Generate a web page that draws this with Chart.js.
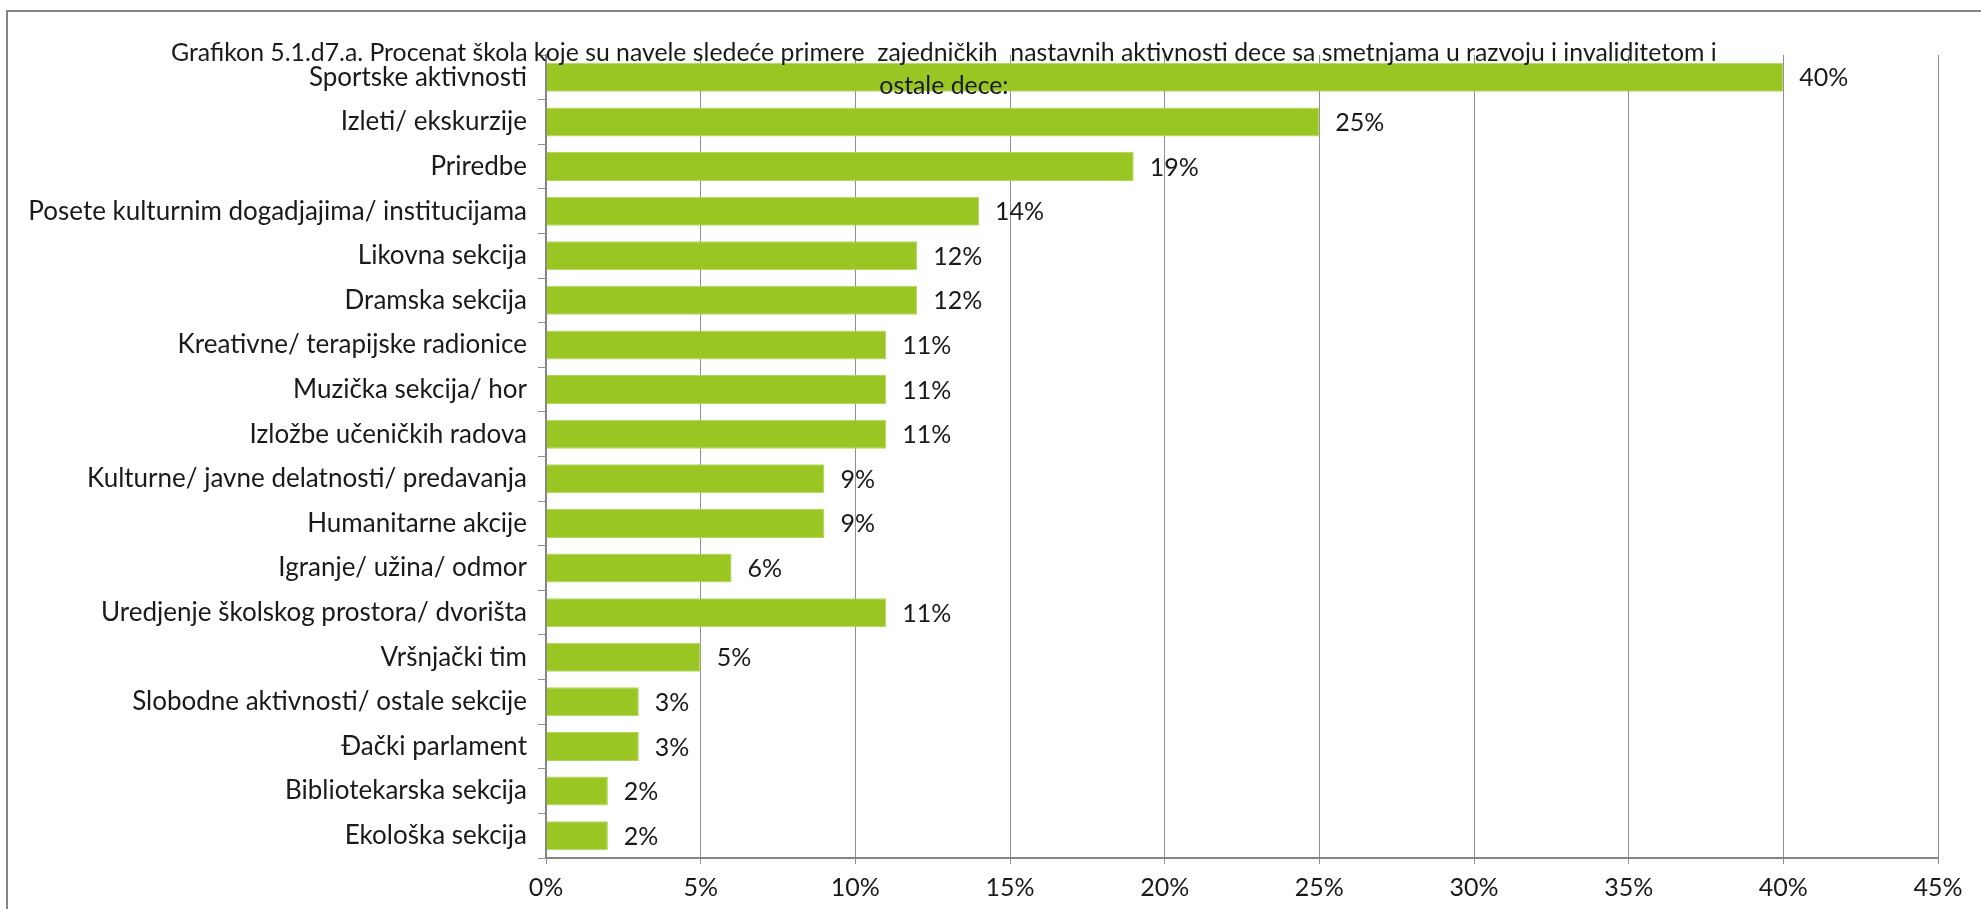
<!DOCTYPE html>
<html lang="sr">
<head>
<meta charset="utf-8">
<title>Grafikon 5.1.d7.a</title>
<script src="https://cdn.jsdelivr.net/npm/chart.js@4.4.1/dist/chart.umd.min.js"></script>
<style>
  html, body { margin: 0; padding: 0; background: #ffffff; overflow: hidden; }
  #wrap { position: relative; width: 1981px; height: 909px; }
  #frame {
    position: absolute; left: 6px; top: 10px; width: 2100px; height: 1100px;
    border-left: 2px solid #858585; border-top: 2px solid #858585;
    box-sizing: border-box; pointer-events: none;
  }
  canvas { position: absolute; left: 0; top: 0; }
</style>
</head>
<body>
<div id="wrap">
  <canvas id="chart" width="1981" height="909"></canvas>
  <div id="frame"></div>
</div>
<script>
// Aktivnosti (kategorije) i procenat škola
const categories = [
  "Sportske aktivnosti",
  "Izleti/ ekskurzije",
  "Priredbe",
  "Posete kulturnim dogadjajima/ institucijama",
  "Likovna sekcija",
  "Dramska sekcija",
  "Kreativne/ terapijske radionice",
  "Muzička sekcija/ hor",
  "Izložbe učeničkih radova",
  "Kulturne/ javne delatnosti/ predavanja",
  "Humanitarne akcije",
  "Igranje/ užina/ odmor",
  "Uredjenje školskog prostora/ dvorišta",
  "Vršnjački tim",
  "Slobodne aktivnosti/ ostale sekcije",
  "Đački parlament",
  "Bibliotekarska sekcija",
  "Ekološka sekcija"
];
const percentValues = [40, 25, 19, 14, 12, 12, 11, 11, 11, 9, 9, 6, 11, 5, 3, 3, 2, 2];
const axisTicks = [0, 5, 10, 15, 20, 25, 30, 35, 40, 45];
const titleLines = [
  "Grafikon 5.1.d7.a. Procenat škola koje su navele sledeće primere  zajedničkih  nastavnih aktivnosti dece sa smetnjama u razvoju i invaliditetom i",
  "ostale dece:"
];

const FONT = "Lato, 'Open Sans', sans-serif";
const TEXT_COLOR = "#1a1a1a";
const GRID_COLOR = "#8f8f8f";

// Vrednosti pored stubaca
const valueLabels = {
  id: "valueLabels",
  afterDatasetsDraw(chart) {
    const ctx = chart.ctx;
    const meta = chart.getDatasetMeta(0);
    const data = chart.data.datasets[0].data;
    ctx.save();
    ctx.font = "25px " + FONT;
    ctx.fillStyle = TEXT_COLOR;
    ctx.textAlign = "left";
    ctx.textBaseline = "middle";
    meta.data.forEach((bar, i) => {
      ctx.fillText(data[i] + "%", bar.x + 16, bar.y + 1);
    });
    ctx.restore();
  }
};

// Naslov preko gornjeg dela grafikona
const overlayTitle = {
  id: "overlayTitle",
  afterDraw(chart) {
    const ctx = chart.ctx;
    const cx = chart.width * 0.4765;
    ctx.save();
    ctx.font = "24.8px " + FONT;
    ctx.fillStyle = TEXT_COLOR;
    ctx.textAlign = "center";
    ctx.textBaseline = "middle";
    ctx.fillText(titleLines[0], cx, 53);
    ctx.fillText(titleLines[1], cx, 86);
    ctx.restore();
  }
};

new Chart(document.getElementById("chart"), {
  type: "bar",
  data: {
    labels: categories,
    datasets: [{
      data: percentValues,
      backgroundColor: "#99c623",
      borderColor: "#b3d65e",
      borderWidth: 1,
      borderSkipped: "left",
      categoryPercentage: 1.0,
      barPercentage: 0.65
    }]
  },
  options: {
    indexAxis: "y",
    responsive: false,
    animation: false,
    devicePixelRatio: 1,
    layout: { padding: { left: 0, top: 55, right: 43, bottom: 0 } },
    plugins: {
      legend: { display: false },
      title: { display: false },
      tooltip: { enabled: false }
    },
    scales: {
      x: {
        type: "linear",
        min: 0,
        max: 45,
        afterBuildTicks(scale) {
          scale.ticks = axisTicks.map(v => ({ value: v }));
        },
        afterFit(scale) { scale.height = 51; },
        ticks: {
          callback: v => v + "%",
          font: { family: FONT, size: 25 },
          color: TEXT_COLOR,
          padding: 9,
          maxRotation: 0
        },
        grid: {
          color: GRID_COLOR,
          lineWidth: 1,
          tickLength: 6,
          drawTicks: true
        },
        border: { display: true, color: "#858585", width: 2 }
      },
      y: {
        type: "category",
        afterFit(scale) { scale.width = 546; },
        ticks: {
          font: { family: FONT, size: 26 },
          color: TEXT_COLOR,
          padding: 11,
          autoSkip: false
        },
        grid: {
          display: true,
          drawOnChartArea: false,
          drawTicks: true,
          tickLength: 8,
          offset: true,
          color: GRID_COLOR
        },
        border: { display: true, color: "#858585", width: 2 }
      }
    }
  },
  plugins: [valueLabels, overlayTitle]
});
</script>
</body>
</html>
